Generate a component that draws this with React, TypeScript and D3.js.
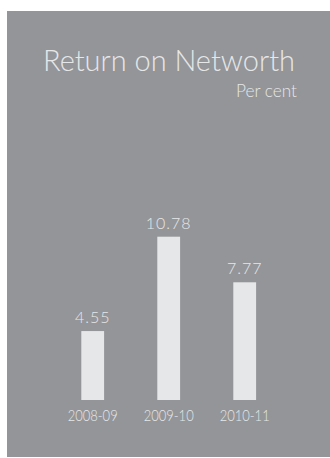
import React from "react";
import * as d3 from "d3";

const categories = ["2008-09", "2009-10", "2010-11"];
const values = [4.55, 10.78, 7.77];
const valueLabels = ["4.55", "10.78", "7.77"];
const title = "Return on Networth";
const unit = "Per cent";

const W = 330;
const H = 458;
const BG = "#939598";
const FG = "#e6e7e8";
const FONT = "Lato, 'Open Sans', sans-serif";

export default function App() {
  const x = d3
    .scaleBand<string>()
    .domain(categories)
    .range([54.7, 282.7])
    .paddingInner(0.7)
    .paddingOuter(0.35);
  const y = d3.scaleLinear().domain([0, 10.78]).range([400, 236.7]);

  return (
    <svg
      width={W}
      height={H}
      style={{ position: "absolute", left: 0, top: 0 }}
    >
      <rect x={7} y={11} width={W - 7} height={446} fill={BG} />
      <text
        x={295}
        y={71}
        textAnchor="end"
        fill={FG}
        fontFamily={FONT}
        fontSize={30}
        fontWeight={300}
        textLength={252}
        lengthAdjust="spacingAndGlyphs"
      >
        {title}
      </text>
      <text
        x={297}
        y={97}
        textAnchor="end"
        fill={FG}
        fontFamily={FONT}
        fontSize={18}
        fontWeight={300}
        textLength={61}
        lengthAdjust="spacingAndGlyphs"
      >
        {unit}
      </text>
      {categories.map((c, i) => {
        const bx = x(c)!;
        const bw = x.bandwidth();
        const by = y(values[i]);
        return (
          <g key={c}>
            <rect x={bx} y={by} width={bw} height={y(0) - by} fill={FG} />
            <text
              x={bx + bw / 2}
              y={by - 8}
              textAnchor="middle"
              fill={FG}
              fontFamily={FONT}
              fontSize={16}
              fontWeight={300}
              letterSpacing={1}
            >
              {valueLabels[i]}
            </text>
            <text
              x={bx + bw / 2}
              y={421}
              textAnchor="middle"
              fill={FG}
              fontFamily={FONT}
              fontSize={16}
              fontWeight={300}
              textLength={50}
              lengthAdjust="spacingAndGlyphs"
            >
              {c}
            </text>
          </g>
        );
      })}
    </svg>
  );
}
